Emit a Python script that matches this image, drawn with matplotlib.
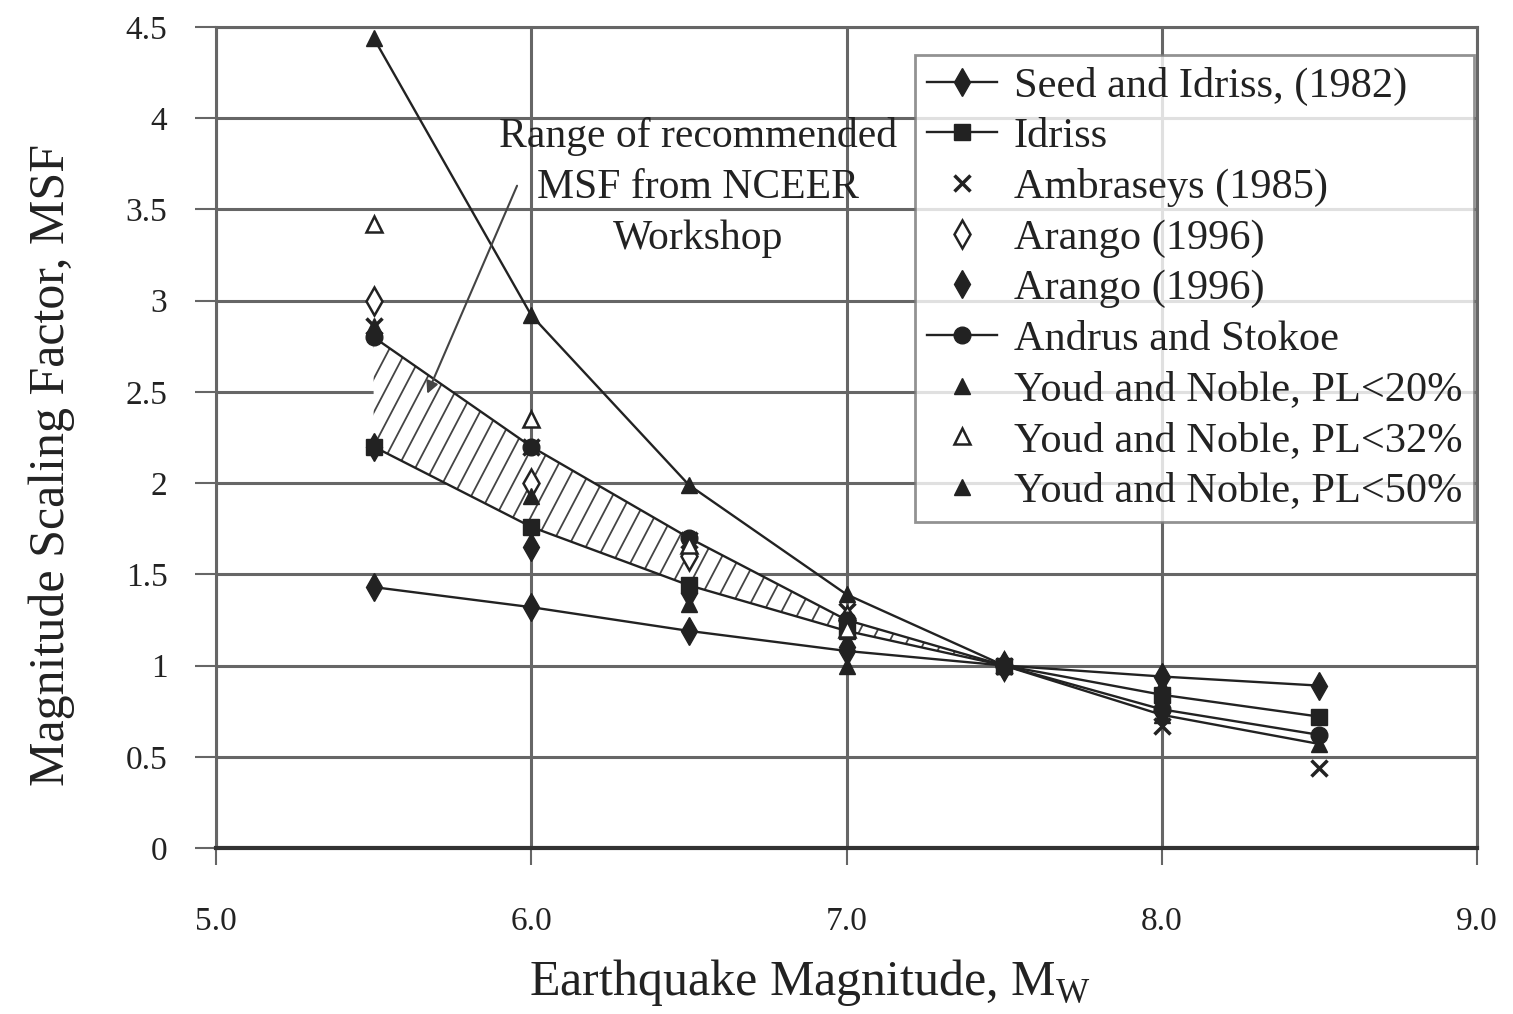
import numpy as np
import matplotlib.pyplot as plt
from matplotlib.patches import Polygon

plt.rcParams['font.family'] = ['Liberation Serif', 'DejaVu Serif']
plt.rcParams['mathtext.fontset'] = 'custom'
plt.rcParams['mathtext.rm'] = 'Liberation Serif'

# Magnitude scaling factors by method
mag = [5.5, 6.0, 6.5, 7.0, 7.5, 8.0, 8.5]
seed_idriss = [1.43, 1.32, 1.19, 1.08, 1.00, 0.94, 0.89]
idriss = [2.20, 1.76, 1.44, 1.19, 1.00, 0.84, 0.72]
ambraseys = [2.86, 2.20, 1.69, 1.30, 1.00, 0.67, 0.44]
andrus_stokoe = [2.80, 2.20, 1.70, 1.25, 1.00, 0.76, 0.62]
youd_50 = [4.44, 2.92, 1.99, 1.39, 1.00, 0.73, 0.57]

mag_arango = [5.5, 6.0, 6.5, 7.0, 7.5, 8.0]
arango_dist = [3.00, 2.00, 1.60, 1.25, 1.00, 0.75]
arango_energy = [2.20, 1.65, 1.40, 1.10, 1.00, 0.85]

mag_youd = [5.5, 6.0, 6.5, 7.0]
youd_20 = [2.86, 1.93, 1.34, 1.00]
youd_32 = [3.42, 2.35, 1.66, 1.20]

# NCEER recommended range: Idriss (lower) to Andrus & Stokoe (upper), M 5.5 - 7.5
n_band = 5

ink = '#222222'
grid_c = '#666666'

fig = plt.figure(figsize=(15.13, 10.14), dpi=100)
ax = fig.add_axes([216 / 1513, 1 - 848 / 1014, (1477 - 216) / 1513, (848 - 27) / 1014])

ax.set_xlim(5.0, 9.0)
ax.set_ylim(0, 4.5)
ax.set_xticks(np.arange(5.0, 9.01, 1.0))
ax.set_yticks(np.arange(0, 4.51, 0.5))
ax.set_xticklabels(['%.1f' % v for v in np.arange(5.0, 9.01, 1.0)])
ax.set_yticklabels(['%g' % v for v in np.arange(0, 4.51, 0.5)])
ax.grid(True, color=grid_c, linewidth=2.2)
ax.set_axisbelow(True)
for side in ['top', 'right', 'left']:
    ax.spines[side].set_color(grid_c)
    ax.spines[side].set_linewidth(2.2)
ax.spines['bottom'].set_color('#333333')
ax.spines['bottom'].set_linewidth(3.0)
ax.tick_params(axis='y', direction='out', length=15, width=1.5, color=grid_c,
               pad=20, labelsize=24, labelcolor=ink)
ax.tick_params(axis='x', direction='out', length=12, width=1.5, color=grid_c,
               pad=30, labelsize=24, labelcolor=ink)

# hatched band
band = list(zip(mag[:n_band], andrus_stokoe[:n_band])) + \
    list(zip(mag[:n_band][::-1], idriss[:n_band][::-1]))
clip = Polygon(band, closed=True, facecolor='white', edgecolor='none', zorder=1.5)
ax.add_patch(clip)
slope = 3.3
for x0 in np.arange(4.8, 7.6, 0.056):
    hl, = ax.plot([x0, x0 + 3.0 / slope], [1.0, 4.0], color='#444444', lw=1.3, zorder=1.6)
    hl.set_clip_path(clip)

lw = 1.7
ms = 12
ax.plot(mag, seed_idriss, color=ink, lw=lw, marker='d', ms=ms + 2, mfc=ink, mec=ink,
        label='Seed and Idriss, (1982)', zorder=3)
ax.plot(mag, idriss, color=ink, lw=lw, marker='s', ms=ms, mfc=ink, mec=ink,
        label='Idriss', zorder=3)
ax.plot(mag, ambraseys, ls='none', marker='x', ms=ms, mew=2.5, color=ink,
        label='Ambraseys (1985)', zorder=3)
ax.plot(mag_arango, arango_dist, ls='none', marker='d', ms=ms + 2, mfc='white', mec=ink, mew=1.8,
        label='Arango (1996)', zorder=3)
ax.plot(mag_arango, arango_energy, ls='none', marker='d', ms=ms + 2, mfc=ink, mec=ink,
        label='Arango (1996)', zorder=3)
ax.plot(mag, andrus_stokoe, color=ink, lw=lw, marker='o', ms=ms, mfc=ink, mec=ink,
        label='Andrus and Stokoe', zorder=3)
ax.plot(mag_youd, youd_20, ls='none', marker='^', ms=ms, mfc=ink, mec=ink,
        label='Youd and Noble, PL<20%', zorder=3)
ax.plot(mag_youd, youd_32, ls='none', marker='^', ms=ms, mfc='white', mec=ink, mew=1.8,
        label='Youd and Noble, PL<32%', zorder=3)
ax.plot(mag, youd_50, color=ink, lw=lw, zorder=2.5)
ax.plot(mag, youd_50, ls='none', marker='^', ms=ms, mfc=ink, mec=ink,
        label='Youd and Noble, PL<50%', zorder=3)

ax.text(6.53, 3.62, 'Range of recommended\nMSF from NCEER\nWorkshop', ha='center', va='center',
        fontsize=30, color=ink, linespacing=1.42, zorder=4)
ax.annotate('', xy=(5.67, 2.49), xytext=(5.955, 3.63),
            arrowprops=dict(arrowstyle='-|>', color='#444444', lw=1.5, mutation_scale=18,
                            shrinkA=0, shrinkB=0), zorder=4)

leg = ax.legend(loc='upper right', bbox_to_anchor=(0.998, 0.966), fontsize=30.5,
                frameon=True, fancybox=False, borderaxespad=0, handlelength=1.65,
                handletextpad=0.4, labelspacing=0.28, borderpad=0.28, labelcolor=ink)
leg.get_frame().set_edgecolor('#777777')
leg.get_frame().set_linewidth(2.0)
leg.set_zorder(5)

ax.set_xlabel(r'Earthquake Magnitude, M$_\mathregular{W}$', fontsize=36, color=ink)
ax.xaxis.set_label_coords(0.471, -0.133)
ax.set_ylabel('Magnitude Scaling Factor, MSF', fontsize=36, color=ink)
ax.yaxis.set_label_coords(-0.112, 0.466)

fig.savefig('out.png', dpi=100)
